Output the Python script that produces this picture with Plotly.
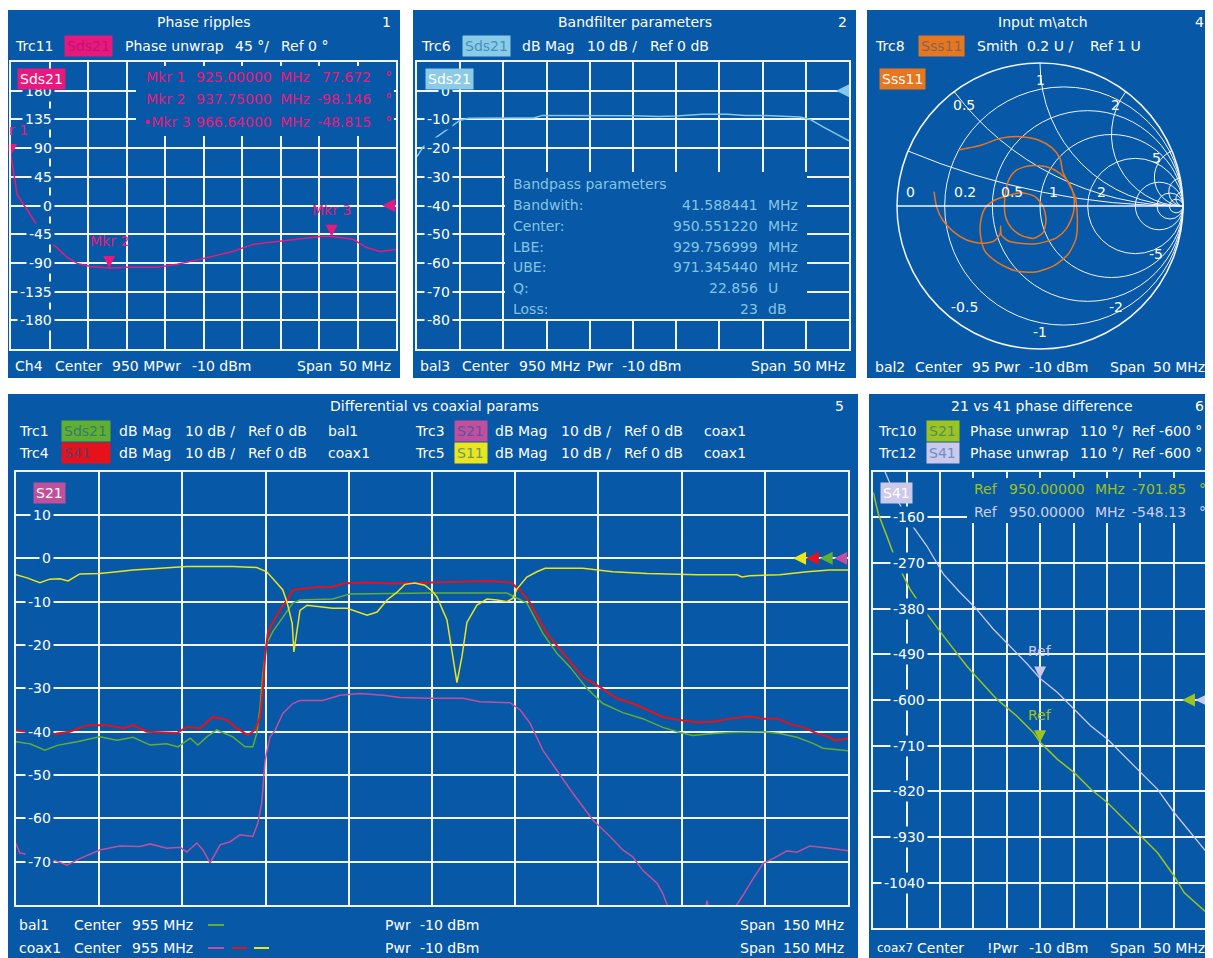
import numpy as np
import plotly.graph_objects as go

# page has an 8px body margin: figure is shifted so reference pixel p lands at page pixel p
OFF = 8
W, H = 1213 - OFF, 958 - OFF
BLUE = "#0758a6"
GRID = "#f2f4f8"
FONT = "DejaVu Sans, Verdana, sans-serif"
FS = 14

PINK = "#e8197d"
CYAN = "#84c8e6"
ORANGE = "#e8761e"
GREEN = "#62ae31"
RED = "#e5121b"
YELLOW = "#ebe51c"
MAGENTA = "#c24f9c"
YGREEN = "#9cc320"
LAVENDER = "#ccc9ea"

# ---------------- Panel 1: Phase ripples (Sds21 phase unwrap) ----------------
p1_freq = [925.0, 925.4, 925.8, 926.7, 927.1, 927.9, 928.8, 929.7, 930.5, 931.4, 932.3, 933.6,
           935.3, 936.6, 937.75, 940.1, 944.0, 946.6, 949.5, 953.8, 956.4, 959.9, 963.0, 965.1,
           966.64, 969.4, 971.2, 972.9, 975.0]
p1_phase = [77.7, 48.5, 17.0, 0.0, -6.3, -22.0, -37.6, -53.0, -61.0, -72.0, -81.4, -90.8,
            -95.5, -97.0, -98.1, -97.0, -97.0, -92.0, -84.5, -72.0, -61.0, -56.0, -52.0, -48.5,
            -48.8, -53.0, -66.0, -72.0, -69.0]
p1_mkr_freq = [925.0, 937.75, 966.64]
p1_mkr_val = [77.672, -98.146, -48.815]
p1_mkr_names = ["Mkr 1", "Mkr 2", "\u2022Mkr 3"]
p1_mkr_ftxt = ["925.00000", "937.75000", "966.64000"]
p1_mkr_vtxt = ["77.672", "-98.146", "-48.815"]
p1_yticks = [180, 135, 90, 45, 0, -45, -90, -135, -180]
p1_ref = [973.2, 0]

# ---------------- Panel 2: Bandfilter parameters (Sds21 dB Mag) ----------------
p2_freq = [925.0, 925.7, 927.3, 928.8, 930.0, 931.0, 935.0, 938.5, 939.5, 945.0, 950.0, 953.0,
           955.0, 958.0, 961.0, 963.0, 966.0, 969.3, 970.5, 972.0, 973.5, 975.0]
p2_mag = [-23.0, -19.6, -16.1, -13.0, -10.3, -9.6, -9.6, -9.5, -8.6, -8.6, -8.7, -9.0,
          -8.8, -8.2, -8.2, -8.6, -8.7, -9.2, -10.0, -12.6, -15.0, -17.5]
p2_yticks = [0, -10, -20, -30, -40, -50, -60, -70, -80]
p2_ref = [973.5, 0]
bp_labels = ["Bandwith:", "Center:", "LBE:", "UBE:", "Q:", "Loss:"]
bp_values = ["41.588441", "950.551220", "929.756999", "971.345440", "22.856", "23"]
bp_units = ["MHz", "MHz", "MHz", "MHz", "U", "dB"]

# ---------------- Panel 4: Input match (Sss11 Smith), reflection coefficient ----------------
smith_gamma_re = [-0.741, -0.723, -0.681, -0.606, -0.513, -0.408, -0.322, -0.280, -0.275,
                  -0.270, -0.221, -0.140, -0.047, 0.042, 0.117,
                  0.186, 0.233, 0.238, 0.205, 0.140, 0.047, -0.070, -0.163, -0.214, -0.238,
                  -0.249, -0.238, -0.198, -0.128, -0.042, 0.023, 0.042, 0.023, -0.035, -0.128, -0.210,
                  -0.315, -0.385, -0.415, -0.415, -0.385, -0.298, -0.175, -0.035, 0.105, 0.198, 0.252,
                  0.261, 0.245,
                  0.159, 0.140, 0.082, -0.012, -0.140, -0.280, -0.408, -0.490, -0.571]
smith_gamma_im = [0.100, -0.005, -0.098, -0.179, -0.238, -0.261, -0.245, -0.198, -0.140,
                  -0.203, -0.245, -0.261, -0.266, -0.249, -0.221,
                  -0.156, -0.051, 0.065, 0.159, 0.228, 0.275, 0.282, 0.252, 0.193, 0.112,
                  0.007, -0.086, -0.156, -0.207, -0.226, -0.184, -0.098, -0.005, 0.065, 0.093, 0.077,
                  0.042, -0.016, -0.110, -0.214, -0.315, -0.394, -0.452, -0.462, -0.413, -0.336, -0.226,
                  -0.086, 0.065,
                  0.240, 0.333, 0.408, 0.462, 0.485, 0.473, 0.427, 0.408, 0.392]
smith_real_ticks = [0.2, 0.5, 1, 2, 5, 10, 20]
smith_imag_ticks = [0.2, 0.5, 1, 2, 5, 10, 20]
smith_real_labels = [0, 0.2, 0.5, 1, 2]
smith_imag_labels = [1, 0.5, 2, 5, -0.5, -1, -2, -5]

# ---------------- Panel 5: Differential vs coaxial params ----------------
p5_s11_f = [880.0, 882.0, 884.3, 886.1, 887.9, 889.4, 891.5, 895.1, 898.2, 901.1, 906.0, 910.8,
            915.5, 919.1, 923.4, 925.2, 927.1, 928.1, 928.9, 929.8, 930.1, 930.7, 931.2, 932.5,
            934.8, 937.1, 939.7, 942.0, 943.3, 945.1, 946.9, 948.7, 950.1, 951.9, 953.7, 955.0,
            955.9, 957.7, 958.8, 959.5, 960.4, 961.3, 963.1, 964.9, 966.7, 968.5, 969.6, 970.3,
            972.1, 973.9, 975.4, 982.2, 987.6, 993.8, 1002.8, 1010.0, 1010.9, 1012.3, 1017.7,
            1022.6, 1026.7, 1030.0]
p5_s11 = [-3.8, -4.5, -5.6, -4.8, -4.7, -5.2, -3.6, -3.5, -3.1, -2.7, -2.3, -1.9,
          -1.9, -1.9, -2.1, -3.1, -5.8, -7.3, -10.3, -15.0, -21.6, -16.5, -12.0, -10.8,
          -11.2, -11.5, -11.5, -12.6, -13.1, -12.4, -9.6, -7.8, -6.0, -5.7, -6.2, -7.5,
          -8.9, -14.2, -22.7, -28.7, -22.7, -14.8, -10.8, -9.4, -9.6, -10.0, -9.2, -7.1,
          -4.3, -3.1, -2.3, -2.3, -3.1, -3.5, -3.8, -3.8, -4.3, -4.0, -3.8,
          -3.1, -2.7, -2.7]
p5_s41_f = [880.0, 882.5, 885.2, 887.4, 889.7, 892.8, 896.4, 899.3, 901.1, 903.6, 909.0, 910.8,
            913.2, 915.5, 918.0, 919.8, 921.8, 923.1, 924.0, 924.5, 924.9, 925.4, 926.2, 927.6,
            928.9, 929.9, 934.3, 937.1, 939.0, 943.3, 948.0, 954.6, 965.5, 969.4, 970.3, 970.9,
            972.7, 975.7, 978.6, 982.2, 985.3, 988.3, 992.0, 996.6, 999.7, 1002.8, 1005.7,
            1008.7, 1012.3, 1014.7, 1017.2, 1019.5, 1021.9, 1024.4, 1026.7, 1027.6, 1030.0]
p5_s41 = [-39.7, -40.1, -41.6, -40.4, -40.0, -38.5, -38.5, -39.2, -38.5, -40.0, -40.3, -38.9,
          -39.2, -36.6, -37.3, -39.2, -40.8, -39.6, -36.6, -30.4, -22.7, -17.3, -15.0, -11.9,
          -9.6, -7.3, -6.6, -6.6, -5.8, -5.6, -5.8, -5.6, -5.2, -5.6, -6.9, -7.3,
          -10.3, -17.3, -21.9, -27.4, -29.7, -32.3, -33.9, -36.6, -37.3, -37.9, -37.7,
          -37.0, -36.5, -37.0, -37.0, -38.2, -39.0, -40.4, -41.3, -42.0, -41.6]
p5_sds21_f = [880.0, 882.5, 885.2, 887.6, 891.0, 895.1, 898.2, 901.1, 904.2, 907.2, 909.2, 911.4,
              912.8, 914.4, 916.2, 919.1, 921.3, 922.7, 923.4, 924.0, 924.5, 925.2, 926.3, 928.1,
              929.9, 931.2, 937.1, 940.2, 954.6, 968.5, 970.3, 972.1, 975.0, 977.5, 979.9, 982.9,
              985.8, 989.4, 993.0, 996.6, 999.7, 1002.0, 1005.7, 1008.7, 1014.7, 1017.7, 1020.8,
              1023.7, 1025.5, 1030.0]
p5_sds21 = [-42.3, -42.8, -44.3, -43.1, -42.3, -41.2, -42.0, -41.3, -43.1, -42.8, -43.5, -41.5,
            -43.1, -41.2, -39.6, -41.2, -43.5, -43.5, -40.4, -34.3, -26.6, -19.7, -16.9, -13.5,
            -10.3, -9.6, -9.4, -8.2, -8.0, -8.0, -9.2, -10.3, -17.3, -21.9, -25.1, -30.0,
            -33.5, -35.6, -37.0, -39.0, -40.2, -40.9, -40.4, -40.2, -40.0, -40.4, -41.3,
            -42.7, -43.8, -44.4]
p5_s21_f = [880.0, 880.7, 883.1, 886.1, 889.2, 891.5, 895.1, 898.7, 902.4, 904.2, 907.2, 909.6,
            910.8, 912.6, 913.7, 915.0, 916.8, 918.6, 920.4, 922.7, 923.6, 924.3, 924.9, 925.8,
            926.7, 928.1, 929.9, 931.2, 935.3, 938.4, 942.0, 946.2, 949.2, 954.6, 960.6, 963.6,
            969.1, 970.9, 972.7, 975.0, 977.5, 980.4, 984.0, 987.1, 989.4, 991.2, 993.0, 995.6,
            996.6, 997.4, 998.3, 999.7, 1001.5, 1003.3, 1004.6, 1005.5, 1007.8, 1010.2, 1011.1,
            1012.9, 1014.7, 1016.5, 1019.0, 1020.8, 1023.1, 1026.7, 1030.0]
p5_s21 = [-65.8, -68.0, -68.5, -69.3, -70.8, -69.3, -67.3, -66.4, -66.5, -65.9, -66.9, -66.7,
          -67.8, -65.7, -67.3, -70.3, -66.1, -65.4, -63.8, -64.2, -61.1, -56.5, -46.6, -41.2,
          -39.7, -35.8, -33.5, -32.8, -32.8, -31.6, -31.2, -31.6, -32.1, -32.3, -32.3, -33.1,
          -33.3, -35.0, -38.1, -44.3, -48.9, -54.2, -60.4, -64.2, -67.3, -68.9, -72.0, -75.0,
          -77.3, -80.0, -84.0, -86.0, -85.0, -87.0, -79.0, -86.0, -84.0, -79.5, -77.7,
          -73.9, -70.4, -69.3, -67.5, -67.8, -66.4, -66.9, -67.5]
p5_yticks = [10, 0, -10, -20, -30, -40, -50, -60, -70]
p5_ref_f = [1020.1, 1022.4, 1024.9, 1027.5]
p5_ref_colors = [YELLOW, RED, GREEN, MAGENTA]

# ---------------- Panel 6: 21 vs 41 phase difference ----------------
p6_s21_f = [925.0, 925.75, 927.0, 928.5, 930.5, 932.5, 935.5, 937.5, 939.0, 940.5, 943.5, 946.5,
            949.0, 950.0, 952.6, 955.1, 957.6, 960.1, 962.6, 965.1, 967.6, 970.1, 971.6, 975.0]
p6_s21 = [-99.7, -152.0, -204.0, -268.5, -333.0, -381.0, -445.6, -485.7, -518.0, -545.0, -598.0,
          -638.6, -678.6, -701.85, -743.0, -775.0, -815.0, -847.5, -888.0, -928.0, -968.0,
          -1024.6, -1064.6, -1113.0]
p6_s41_f = [925.0, 926.75, 928.5, 930.5, 933.0, 935.5, 938.0, 940.25, 943.0, 945.5, 948.0, 950.0,
            952.6, 955.1, 957.6, 960.1, 962.6, 965.1, 967.6, 970.1, 972.6, 975.0]
p6_s41 = [5.0, -50.0, -115.8, -172.0, -228.5, -296.8, -341.0, -377.0, -429.4, -469.7, -512.0,
          -548.13, -582.0, -622.4, -662.7, -694.8, -735.0, -775.0, -815.4, -871.6, -920.0, -968.0]
p6_ref_freq = 950.0
p6_ref_vals = [-701.85, -548.13]
p6_ref_txt = ["-701.85", "-548.13"]
p6_yticks = [-160, -270, -380, -490, -600, -710, -820, -930, -1040]
p6_reflevel_f = [971.25, 973.25]


# ---------------- helpers ----------------
def X(p):
    return (p - OFF) / W


def Y(p):
    return 1 - (p - OFF) / H


def nb(s):
    return s.replace(" ", "\u00a0")


def hex2rgb(c):
    c = c.lstrip("#")
    return [int(c[i:i + 2], 16) for i in (0, 2, 4)]


def blend(c1, c2, t):
    a, b = hex2rgb(c1), hex2rgb(c2)
    return "rgb(%d,%d,%d)" % tuple(int(a[i] * (1 - t) + b[i] * t) for i in range(3))


ann = []


def text(x, y, s, color="white", anchor="left", size=FS, bg=None, width=None,
         xref=None, yref=None, xshift=0, yshift=0):
    d = dict(x=X(x) if xref is None else x, y=Y(y) if yref is None else y,
             xref=xref or "paper", yref=yref or "paper", text=nb(s), showarrow=False,
             xanchor=anchor, yanchor="middle", xshift=xshift, yshift=yshift,
             font=dict(family=FONT, size=size, color=color))
    if bg:
        d.update(bgcolor=bg, borderpad=2)
    if width:
        d.update(width=width, align="left")
    ann.append(d)


def segs(y, items, color="white", size=FS):
    for x, s in items:
        text(x, y, s, color=color, size=size)


shapes = []


def rect(x0, y0, x1, y1, color, layer="below"):
    shapes.append(dict(type="rect", xref="paper", yref="paper", x0=X(x0), x1=X(x1),
                       y0=Y(y1), y1=Y(y0), fillcolor=color, line=dict(width=0), layer=layer))


def dash(x0, x1, y, color):
    shapes.append(dict(type="line", xref="paper", yref="paper", x0=X(x0), x1=X(x1),
                       y0=Y(y), y1=Y(y), line=dict(color=color, width=2), layer="above"))


fig = go.Figure()

# panel backgrounds
for (x0, y0, x1, y1) in [(7, 10, 400, 378), (413, 10, 856, 378), (867, 10, 1211, 378),
                         (7, 394, 858, 958), (869, 394, 1210, 958)]:
    rect(x0, y0, x1, y1, BLUE)


def line_trace(x, y, ax, color, width=1.5):
    fig.add_trace(go.Scatter(x=x, y=y, xaxis="x" + ax, yaxis="y" + ax, mode="lines",
                             line=dict(color=color, width=width), hoverinfo="skip",
                             showlegend=False))


def marker_trace(x, y, ax, colors, symbol, size):
    fig.add_trace(go.Scatter(x=x, y=y, xaxis="x" + ax, yaxis="y" + ax, mode="markers",
                             marker=dict(symbol=symbol, size=size, color=colors, line=dict(width=0)),
                             cliponaxis=False, hoverinfo="skip", showlegend=False))


# ---- Panel 1 ----
line_trace(p1_freq, p1_phase, "", PINK)
marker_trace(p1_mkr_freq, p1_mkr_val, "", PINK, "arrow-down", 12)
marker_trace([p1_ref[0]], [p1_ref[1]], "", PINK, "arrow-left", 13)

# ---- Panel 2 ----
line_trace(p2_freq, p2_mag, "2", CYAN)
marker_trace([p2_ref[0]], [p2_ref[1]], "2", CYAN, "arrow-left", 13)

# ---- Panel 4 (Smith) ----
g = np.array(smith_gamma_re) + 1j * np.array(smith_gamma_im)
z = (1 + g) / (1 - g)
fig.add_trace(go.Scattersmith(real=z.real, imag=z.imag, subplot="smith", mode="lines",
                              line=dict(color=ORANGE, width=1.5, shape="spline", smoothing=0.7),
                              hoverinfo="skip", showlegend=False))

# ---- Panel 5 ----
line_trace(p5_sds21_f, p5_sds21, "3", GREEN, 1.5)
line_trace(p5_s41_f, p5_s41, "3", RED, 2)
line_trace(p5_s21_f, p5_s21, "3", MAGENTA, 1.5)
line_trace(p5_s11_f, p5_s11, "3", YELLOW, 1.5)
marker_trace(p5_ref_f, [0] * len(p5_ref_f), "3", p5_ref_colors, "arrow-left", 13)

# ---- Panel 6 ----
line_trace(p6_s41_f, p6_s41, "4", LAVENDER, 1.3)
line_trace(p6_s21_f, p6_s21, "4", YGREEN, 1.5)
marker_trace([p6_ref_freq, p6_ref_freq], p6_ref_vals, "4", [YGREEN, LAVENDER], "arrow-down", 12)
marker_trace(p6_reflevel_f, [-600, -600], "4", [YGREEN, LAVENDER], "arrow-left", 13)

# ---------------- axes ----------------
common = dict(showgrid=True, gridcolor=GRID, gridwidth=1.6, zeroline=False, showticklabels=False,
              ticks="", showline=True, mirror=True, linecolor=GRID, linewidth=2, fixedrange=True)


def xa(l, r, rng, dt, anchor):
    return dict(domain=[X(l), X(r)], range=rng, dtick=dt, tick0=rng[0], anchor=anchor, **common)


def ya(t, b, rng, dt, t0, anchor):
    return dict(domain=[Y(b), Y(t)], range=rng, dtick=dt, tick0=t0, anchor=anchor, **common)


# ---------------- text: Panel 1 ----------------
text(203, 22, "Phase ripples", anchor="center")
text(393, 22, "1", anchor="right")
text(13, 46, "Trc11")
text(88.5, 46, "Sds21", color=blend(PINK, "#7a0a55", 0.35), anchor="center", bg=PINK)
segs(46, [(123, "Phase unwrap"), (233, "45 °/"), (279, "Ref 0 °")])
segs(366, [(13, "Ch4"), (53, "Center"), (110, "950 MPwr"), (190, "-10 dBm"), (295, "Span")])
text(393, 366, "50 MHz", anchor="right")
for v in p1_yticks:
    text(55, v, str(v), anchor="right", bg=BLUE, yref="y")
rect(136, 66, 394, 136, BLUE, layer="above")
for i in range(3):
    yy = 77 + 22.3 * i
    text(141 if i == 2 else 144, yy, p1_mkr_names[i], color=PINK)
    text(194, yy, p1_mkr_ftxt[i], color=PINK)
    text(278, yy, "MHz", color=PINK)
    text(373, yy, p1_mkr_vtxt[i], color=PINK, anchor="right")
    text(383, yy, "°", color=PINK)
text(41.5, 78.5, "Sds21", anchor="center", bg=PINK)
for i in range(3):
    if i == 0:
        ann.append(dict(x=p1_mkr_freq[i], y=p1_mkr_val[i], xref="x", yref="y", text=nb("r 1"),
                        showarrow=False, xanchor="left", yanchor="middle", xshift=-4, yshift=26,
                        font=dict(family=FONT, size=FS, color=PINK)))
    else:
        ann.append(dict(x=p1_mkr_freq[i], y=p1_mkr_val[i], xref="x", yref="y",
                        text=nb(p1_mkr_names[i].replace("\u2022", "")),
                        showarrow=False, xanchor="center", yanchor="middle", yshift=27,
                        font=dict(family=FONT, size=FS, color=PINK)))

# ---------------- text: Panel 2 ----------------
text(635, 22, "Bandfilter parameters", anchor="center")
text(849, 22, "2", anchor="right")
text(419, 46, "Trc6")
text(487, 46, "Sds21", color="#3f93c4", anchor="center", bg="#8ccbe6")
segs(46, [(520, "dB Mag"), (585, "10 dB /"), (648, "Ref 0 dB")])
segs(366, [(418, "bal3"), (460, "Center"), (517, "950 MHz"), (585, "Pwr"), (620, "-10 dBm"),
           (749, "Span")])
text(847, 366, "50 MHz", anchor="right")
for v in p2_yticks:
    text(453, v, str(v), anchor="right", bg=BLUE, yref="y2")
rect(505, 172, 807, 319, BLUE, layer="above")
BPC = "#86c4e2"
text(511, 184, "Bandpass parameters", color=BPC)
for i in range(len(bp_labels)):
    yy = 205.5 + 20.6 * i
    text(511, yy, bp_labels[i], color=BPC)
    text(760, yy, bp_values[i], color=BPC, anchor="right")
    text(766, yy, bp_units[i], color=BPC)
text(450, 79, "Sds21", anchor="center", bg="#8ccbe6")

# ---------------- text: Panel 4 (Smith) ----------------
SC, SR = (1040, 206), 143
text(1043, 22, "Input m\\atch", anchor="center")
text(1206, 22, "4", anchor="right")
text(873, 46, "Trc8")
text(941, 46, "Sss11", color=blend(ORANGE, BLUE, 0.45), anchor="center", bg=ORANGE)
segs(46, [(975, "Smith"), (1025, "0.2 U /"), (1088, "Ref 1 U")])
segs(367, [(873, "bal2"), (913, "Center"), (970, "95 Pwr"), (1027, "-10 dBm"), (1108, "Span")])
text(1207, 367, "50 MHz", anchor="right")
text(902.5, 79.5, "Sss11", anchor="center", bg=ORANGE)
for r in smith_real_labels:
    gr = (r - 1) / (r + 1)
    text(SC[0] + SR * gr + 7, SC[1] - 14, str(r), anchor="left")
for xv in smith_imag_labels:
    gam = (1j * xv - 1) / (1j * xv + 1) * 0.88
    text(SC[0] + SR * gam.real, SC[1] - SR * gam.imag, str(xv), anchor="center")

# ---------------- text: Panel 5 ----------------
text(434, 406, "Differential vs coaxial params", anchor="center")
text(846, 406, "5", anchor="right")
rows5 = [
    (430.7, [("Trc1", "Sds21", GREEN, "bal1"), ("Trc3", "S21", MAGENTA, "coax1")]),
    (452.7, [("Trc4", "S41", RED, "coax1"), ("Trc5", "S11", YELLOW, "coax1")]),
]
for yy, groups in rows5:
    for gi, (trc, name, col, src) in enumerate(groups):
        if gi == 0:
            text(17, yy, trc)
            text(61, yy, name, color=blend(col, BLUE, 0.55), bg=col, width=44)
            segs(yy, [(117, "dB Mag"), (183, "10 dB /"), (246, "Ref 0 dB"), (326, src)])
        else:
            text(413, yy, trc)
            text(454, yy, name, color=blend(col, BLUE, 0.55), bg=col, width=28)
            segs(yy, [(493, "dB Mag"), (559, "10 dB /"), (622, "Ref 0 dB"), (702, src)])
for v in p5_yticks:
    text(54, v, str(v), anchor="right", bg=BLUE, yref="y3")
text(49, 492.5, "S21", anchor="center", bg=MAGENTA)
for yy, lab in [(925, "bal1"), (948, "coax1")]:
    segs(yy, [(17, lab), (72, "Center"), (130, "955 MHz"), (383, "Pwr"), (418, "-10 dBm"),
              (738, "Span")])
    text(846, yy, "150 MHz", anchor="right")
dash(208, 224, 925, GREEN)
dash(208, 224, 948, MAGENTA)
dash(232, 247, 948, RED)
dash(254, 269, 948, YELLOW)

# ---------------- text: Panel 6 ----------------
text(1042, 406, "21 vs 41 phase difference", anchor="center")
text(1206, 406, "6", anchor="right")
for yy, trc, name, col in [(430.7, "Trc10", "S21", YGREEN), (452.7, "Trc12", "S41", LAVENDER)]:
    text(876, yy, trc)
    text(942.5, yy, name, color=blend(col, BLUE, 0.5), anchor="center", bg=col, width=28)
    segs(yy, [(968, "Phase unwrap"), (1078, "110 °/")])
    text(1204, yy, "Ref -600 °", anchor="right")
text(875, 948, "coax7", size=12)
segs(948, [(915, "Center"), (985, "!Pwr"), (1027, "-10 dBm"), (1108, "Span")])
text(1207, 948, "50 MHz", anchor="right")
for v in p6_yticks:
    text(928, v, str(v), anchor="right", bg=BLUE, yref="y4")
rect(967, 478, 1205, 523, BLUE, layer="above")
for i, col in enumerate([YGREEN, "#d2d0ee"]):
    yy = 489 + 23 * i
    text(972, yy, "Ref", color=col)
    text(1007, yy, "950.00000", color=col)
    text(1093, yy, "MHz", color=col)
    text(1188, yy, p6_ref_txt[i], color=col, anchor="right")
    text(1197, yy, "°", color=col)
text(896, 492.5, "S41", anchor="center", bg=LAVENDER)
for i, col in enumerate([YGREEN, LAVENDER]):
    ann.append(dict(x=p6_ref_freq, y=p6_ref_vals[i], xref="x4", yref="y4", text="Ref",
                    showarrow=False, xanchor="center", yanchor="middle", yshift=27,
                    font=dict(family=FONT, size=FS, color=col)))

fig.update_layout(
    width=W, height=H, margin=dict(l=0, r=0, t=0, b=0),
    paper_bgcolor="white", plot_bgcolor=BLUE, showlegend=False, hovermode=False,
    xaxis=xa(11, 396, [925, 975], 5, "y"),
    yaxis=ya(62, 349, [-225, 225], 45, 0, "x"),
    xaxis2=xa(417, 849, [925, 975], 5, "y2"),
    yaxis2=ya(62, 349, [-90, 10], 10, 0, "x2"),
    xaxis3=xa(16, 848, [880, 1030], 15, "y3"),
    yaxis3=ya(471.7, 905, [-80, 20], 10, 0, "x3"),
    xaxis4=xa(873.3, 1207, [925, 975], 5, "y4"),
    yaxis4=ya(471.7, 928.3, [-1150, -50], 110, -600, "x4"),
    smith=dict(
        domain=dict(x=[X(SC[0] - SR), X(SC[0] + SR)], y=[Y(SC[1] + SR), Y(SC[1] - SR)]),
        bgcolor=BLUE,
        realaxis=dict(tickvals=smith_real_ticks, gridcolor=GRID, gridwidth=1.2, linecolor=GRID,
                      linewidth=1.5, showticklabels=False, ticks=""),
        imaginaryaxis=dict(tickvals=smith_imag_ticks, gridcolor=GRID, gridwidth=1.2,
                           linecolor=GRID, linewidth=1.5, showticklabels=False, ticks=""),
    ),
    shapes=shapes,
    annotations=ann,
)

fig.write_html("out.html")
